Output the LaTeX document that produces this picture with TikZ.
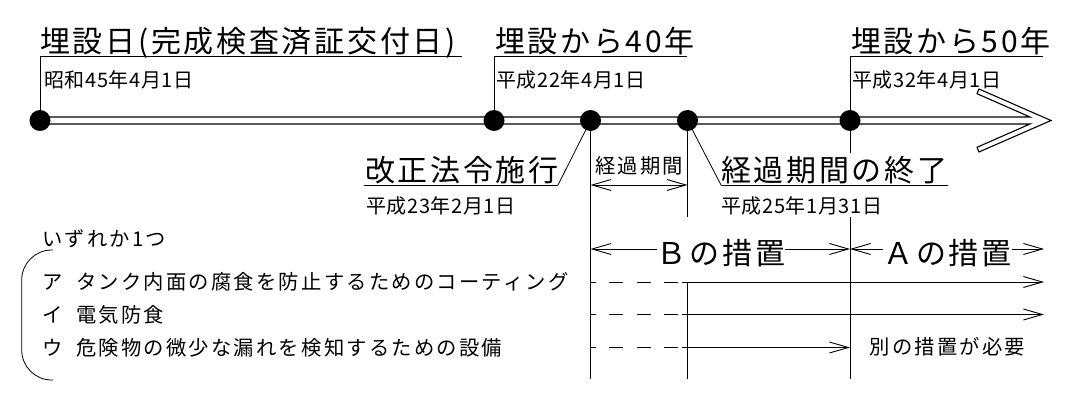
\documentclass[tikz,border=0pt]{standalone}
\usepackage{fontspec}
\setmainfont{Noto Sans CJK JP}
\newfontfamily\jpL{Noto Sans CJK JP}[LetterSpace=9]
\newfontfamily\jpS{Noto Sans CJK JP}[LetterSpace=3]
\newfontfamily\jpM{Noto Sans CJK JP}[LetterSpace=11]
\usetikzlibrary{arrows.meta}
\tikzset{
  tipb/.tip={Straight Barb[length=19pt,width=11pt]},
  bigtxt/.style={font={\jpL\fontsize{30}{30}\selectfont}, inner sep=0pt, text height=25pt, text depth=2pt},
  smalltxt/.style={font={\jpS\fontsize{20}{20}\selectfont}, inner sep=0pt, text height=16.6pt, text depth=1.4pt},
  midtxt/.style={font={\jpM\fontsize{20.3}{20.3}\selectfont}, inner sep=0pt, text height=16.8pt, text depth=1.4pt},
  dot/.style={circle, fill=black, inner sep=0pt, minimum size=21pt},
  ln/.style={line width=1pt},
  thinln/.style={line width=0.8pt},
  barb/.style={line width=0.9pt},
  dashln/.style={line width=1pt, dash pattern=on 14pt off 13.5pt, dash phase=9pt},
}
\begin{document}
\begin{tikzpicture}[x=1pt,y=-1pt]
\useasboundingbox[fill=white] (0,0) rectangle (1073,409);

% timeline (hollow arrow)
\draw[line width=1.1pt, line join=miter]
  (40,117) -- (1030,117) -- (977,93.7) -- (979,89) -- (1051,120.5)
  -- (979,152) -- (977,147.3) -- (1030,124) -- (40,124);

% dots
\node[dot] (d1) at (40,120.5) {};
\node[dot] (d2) at (494,120.5) {};
\node[dot] (d3) at (590.5,120.5) {};
\node[dot] (d4) at (687.5,120.5) {};
\node[dot] (d5) at (850,120.5) {};

% top titles
\node[bigtxt, anchor=west] (t1) at (40,41.5) {埋設日(完成検査済証交付日)};
\node[smalltxt, anchor=west] (s1) at (44,79.5) {昭和45年4月1日};
\node[bigtxt, anchor=west] (t2) at (495,41.5) {埋設から40年};
\node[smalltxt, anchor=west] (s2) at (496,79.5) {平成22年4月1日};
\node[bigtxt, anchor=west] (t3) at (851,41.5) {埋設から50年};
\node[smalltxt, anchor=west] (s3) at (852,79.5) {平成32年4月1日};

\coordinate (u1a) at (40,57);   \coordinate (u1b) at (462,57);
\coordinate (u2a) at (494,57);  \coordinate (u2b) at (687,57);
\coordinate (u3a) at (850,57);  \coordinate (u3b) at (1043,57);
\draw[ln] (d1.center) -- (u1a) -- (u1b);
\draw[ln] (d2.center) -- (u2a) -- (u2b);
\draw[ln] (d5.center) -- (u3a) -- (u3b);

% lower labels
\node[bigtxt, anchor=west] (t4) at (365,170) {改正法令施行};
\node[smalltxt, anchor=west] (s4) at (366,206) {平成23年2月1日};
\node[bigtxt, anchor=west] (t5) at (721,170) {経過期間の終了};
\node[smalltxt, anchor=west] (s5) at (721,206) {平成25年1月31日};

\coordinate (l4a) at (558,185); \coordinate (l4b) at (364,185);
\coordinate (l5a) at (721,185); \coordinate (l5b) at (948,185);
\draw[thinln] (d3.center) -- (l4a);
\draw[ln] (l4a) -- (l4b);
\draw[thinln] (d4.center) -- (l5a);
\draw[ln] (l5a) -- (l5b);

% vertical lines
\coordinate (v3b) at (590.5,379);
\coordinate (v4a) at (687.5,217);
\coordinate (v4c) at (687.5,282);
\coordinate (v4d) at (687.5,379);
\coordinate (v5a) at (850,153);
\coordinate (v5c) at (850,217);
\coordinate (v5d) at (850,379);
\draw[ln] (d3.center) -- (v3b);
\draw[ln] (d4.center) -- (v4a);
\draw[ln] (v4c) -- (v4d);
\draw[ln] (d5.center) -- (v5a);
\draw[ln] (v5c) -- (v5d);

% transition period dimension
\node[midtxt] (kk) at (639,166) {経過期間};
\coordinate (k1) at (590.5,185); \coordinate (k2) at (687.5,185);
\draw[barb, tipb-tipb] (k1) -- (k2);

% B / A measures
\node[bigtxt] (tB) at (721,253) {Ｂの措置};
\node[bigtxt] (tA) at (947.5,253) {Ａの措置};
\coordinate (b1) at (590.5,249); \coordinate (b2) at (850,249);
\coordinate (a2) at (1044,249);
\coordinate (bg1) at (657,249); \coordinate (bg2) at (785,249);
\coordinate (ag1) at (883,249); \coordinate (ag2) at (1012,249);
\draw[barb, tipb-] (b1) -- (bg1);
\draw[barb, -tipb] (bg2) -- (b2);
\draw[barb, tipb-] (b2) -- (ag1);
\draw[barb, -tipb] (ag2) -- (a2);

% list
\node[midtxt, anchor=west] (any) at (42,239) {いずれか1つ};
\node[midtxt, anchor=west] (ka) at (42,282) {ア};
\node[midtxt, anchor=west] (ta) at (76,282) {タンク内面の腐食を防止するためのコーティング};
\node[midtxt, anchor=west] (ki) at (42,315) {イ};
\node[midtxt, anchor=west] (ti) at (76,315) {電気防食};
\node[midtxt, anchor=west] (ku) at (42,348) {ウ};
\node[midtxt, anchor=west] (tu) at (76,348) {危険物の微少な漏れを検知するための設備};
\draw[line width=0.8pt, rounded corners=30pt] (53,250) -- (21.7,250) -- (21.7,380) -- (53,380);

% row arrows
\coordinate (r1a) at (590.5,282); \coordinate (r1b) at (682,282); \coordinate (r1c) at (1044,282);
\coordinate (r2a) at (590.5,314.5); \coordinate (r2b) at (682,314.5); \coordinate (r2c) at (1044,314.5);
\coordinate (r3a) at (590.5,347.5); \coordinate (r3b) at (682,347.5); \coordinate (r3c) at (850,347.5);
\draw[dashln] (r1a) -- (r1b);
\draw[dashln] (r2a) -- (r2b);
\draw[dashln] (r3a) -- (r3b);
\draw[barb, -tipb] (r1b) -- (r1c);
\draw[barb, -tipb] (r2b) -- (r2c);
\draw[barb, -tipb] (r3b) -- (r3c);
\node[midtxt] (other) at (947.5,347) {別の措置が必要};
\end{tikzpicture}
\end{document}
